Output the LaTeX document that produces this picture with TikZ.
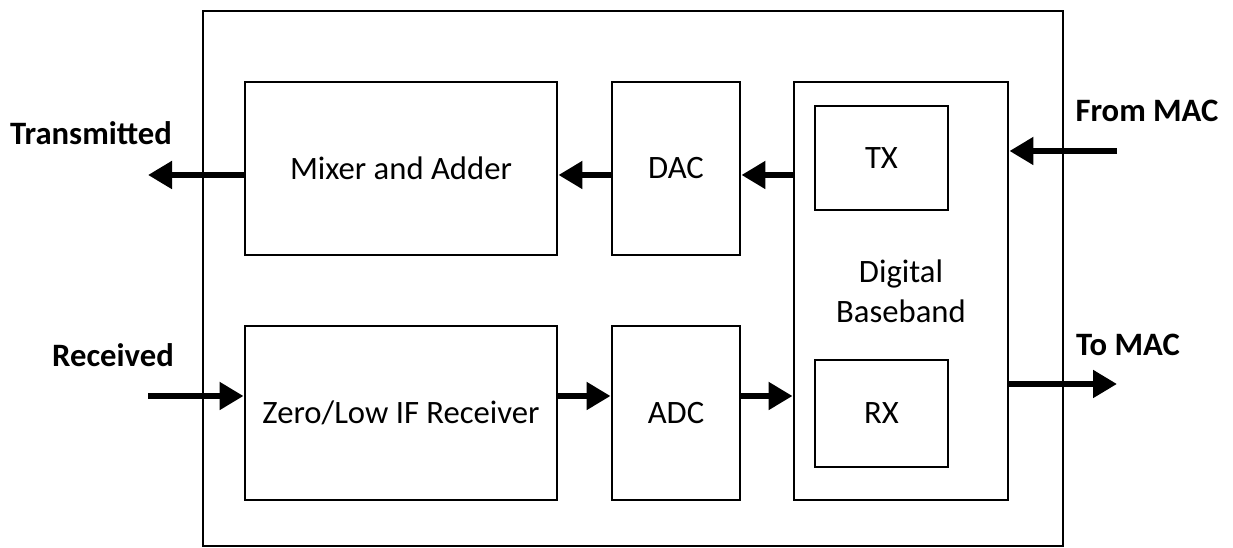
\documentclass[tikz,border=0pt]{standalone}
\usepackage{fontspec}
\setmainfont{Carlito}
\usetikzlibrary{arrows.meta}
\begin{document}
\begin{tikzpicture}[x=0.75pt,y=-0.75pt,
  box/.style={draw,line width=2.2pt,inner sep=0pt,font=\fontsize{24.5}{30}\selectfont,align=center},
  lbl/.style={font=\fontsize{24.5}{30}\selectfont\bfseries},
  arr/.style={line width=5.2pt,-{Triangle[length=18pt,width=20pt]}}]
\useasboundingbox (0,0) rectangle (1233,548);
% enclosing board
\draw[line width=2.2pt] (203,11) rectangle (1063,546);
% transmit chain
\node[box,minimum width=312*0.75pt,minimum height=173*0.75pt] (mix) at (401,168.5) {Mixer and Adder};
\node[box,minimum width=128*0.75pt,minimum height=173*0.75pt] (dac) at (676,168.5) {DAC};
% receive chain
\node[box,minimum width=312*0.75pt,minimum height=174*0.75pt] (rcv) at (401,413) {Zero/Low IF Receiver};
\node[box,minimum width=128*0.75pt,minimum height=174*0.75pt] (adc) at (676,413) {ADC};
% baseband processor
\node[box,minimum width=214*0.75pt,minimum height=418*0.75pt] (db) at (901,291) {Digital\\Baseband};
\node[box,minimum width=133*0.75pt,minimum height=104*0.75pt] (tx) at (881.5,158) {TX};
\node[box,minimum width=133*0.75pt,minimum height=107*0.75pt] (rx) at (881.5,413.5) {RX};
% external labels
\node[lbl] (tlab) at (91,133) {Transmitted};
\node[lbl] (rlab) at (113,355) {Received};
\node[lbl] (flab) at (1147,111) {From MAC};
\node[lbl] (mlab) at (1128,345) {To MAC};
% arrow rows and free ends
\coordinate (rowT) at (0,175);
\coordinate (rowR) at (0,396);
\coordinate (txout) at (148,175);
\coordinate (rxin) at (148,396);
\coordinate (macin) at (1117,151);
\coordinate (macout) at (1117,384);
% connectors
\draw[arr] (mix.west |- rowT) -- (txout);
\draw[arr] (dac.west |- rowT) -- (mix.east |- rowT);
\draw[arr] (db.west |- rowT) -- (dac.east |- rowT);
\draw[arr] (rxin) -- (rcv.west |- rowR);
\draw[arr] (rcv.east |- rowR) -- (adc.west |- rowR);
\draw[arr] (adc.east |- rowR) -- (db.west |- rowR);
\draw[arr] (macin) -- (db.east |- macin);
\draw[arr] (db.east |- macout) -- (macout);
\end{tikzpicture}
\end{document}
